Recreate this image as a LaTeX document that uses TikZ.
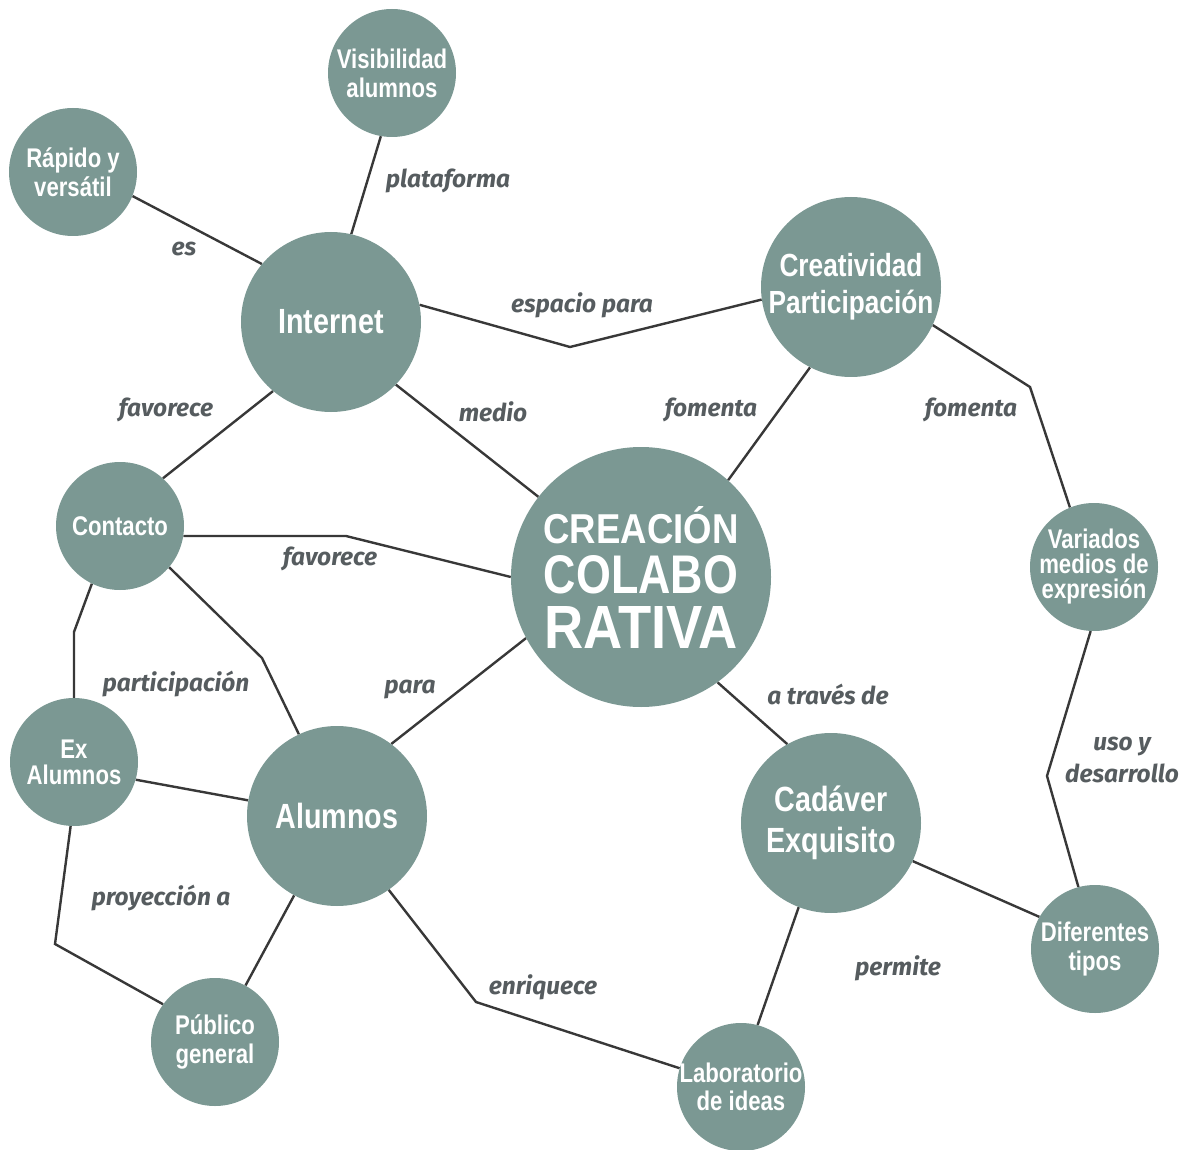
\documentclass[tikz,border=0pt]{standalone}
\usepackage{fontspec}
\usepackage{graphicx}
\newfontfamily\nodefont[FakeStretch=0.82]{Liberation Sans}
\newfontfamily\linkfont{Fira Sans}
\definecolor{sage}{HTML}{7B9893}
\definecolor{wire}{HTML}{383838}
\definecolor{note}{HTML}{565C5F}
\tikzset{
  concept/.style={circle, fill=sage, text=white, inner sep=-12pt, align=center},
  bigconcept/.style={concept, minimum size=180pt, font=\nodefont\bfseries\fontsize{35}{41}\selectfont},
  smallconcept/.style={concept, minimum size=128pt, font=\nodefont\bfseries\fontsize{27}{29}\selectfont},
  link/.style={draw=wire, line width=2.4pt},
  linklabel/.style={text=note, inner sep=0pt, align=center, font=\linkfont\bfseries\itshape\fontsize{24.5}{32}\selectfont},
}

\begin{document}
\begin{tikzpicture}[x=1pt, y=-1pt]
    \pgfdeclarelayer{background}
    \pgfsetlayers{background,main}
    \useasboundingbox (0,0) rectangle (1192,1150);

    % concepts
    \node[concept, minimum size=260pt, font=\nodefont\bfseries\fontsize{50}{50}\selectfont] (crea) at (641,577)
        {\resizebox{195pt}{37pt}{CREACIÓN}\\\resizebox{194pt}{38pt}{COLABO}\\[5pt]\resizebox{194pt}{42pt}{RATIVA}};
    \node[bigconcept] (internet) at (331,322) {Internet};
    \node[bigconcept, font=\nodefont\bfseries\fontsize{32}{37}\selectfont] (creat) at (851,287) {Creatividad\\Participación};
    \node[bigconcept] (alumnos) at (337,816) {Alumnos};
    \node[bigconcept] (cadaver) at (831,823) {Cadáver\\Exquisito};
    \node[smallconcept] (visib) at (392,73) {Visibilidad\\alumnos};
    \node[smallconcept] (rapido) at (73,172) {Rápido y\\versátil};
    \node[smallconcept] (contacto) at (120,526) {Contacto};
    \node[smallconcept, font=\nodefont\bfseries\fontsize{27}{25}\selectfont] (variados) at (1094,567) {Variados\\medios de\\expresión};
    \node[smallconcept, font=\nodefont\bfseries\fontsize{27}{26}\selectfont] (exalum) at (74,762) {Ex\\Alumnos};
    \node[smallconcept] (difer) at (1095,949) {Diferentes\\tipos};
    \node[smallconcept] (publico) at (215,1042) {Público\\general};
    \node[smallconcept, font=\nodefont\bfseries\fontsize{27}{28}\selectfont] (labo) at (741,1087) {Laboratorio\\de ideas};

    % bends
    \coordinate (kInterCreat) at (570,347);
    \coordinate (kCreatVar) at (1030,387);
    \coordinate (kContCrea) at (346,536);
    \coordinate (kContAlum) at (262,658);
    \coordinate (kContEx) at (74,632);
    \coordinate (kExPub) at (55,944);
    \coordinate (kAlumLab) at (476,1002);
    \coordinate (kVarDif) at (1047,776);

    \begin{pgfonlayer}{background}
        \draw[link] (rapido.338) -- (internet.140);
        \draw[link] (visib.260) -- (internet.77);
        \draw[link] (internet.11) -- (kInterCreat) -- (creat.188);
        \draw[link] (internet.316) -- (crea.142);
        \draw[link] (internet.230) -- (contacto.48);
        \draw[link] (creat.243) -- (crea.48);
        \draw[link] (creat.335) -- (kCreatVar) -- (variados.112);
        \draw[link] (contacto.351) -- (kContCrea) -- (crea.180);
        \draw[link] (contacto.320) -- (kContAlum) -- (alumnos.115);
        \draw[link] (contacto.244) -- (kContEx) -- (exalum.90);
        \draw[link] (exalum.344) -- (alumnos.170);
        \draw[link] (exalum.267) -- (kExPub) -- (publico.144);
        \draw[link] (alumnos.53) -- (crea.208);
        \draw[link] (alumnos) -- (publico);
        \draw[link] (alumnos.305) -- (kAlumLab) -- (labo.163);
        \draw[link] (crea.306) -- (cadaver.119);
        \draw[link] (cadaver.335) -- (difer.150);
        \draw[link] (cadaver.249) -- (labo.75);
        \draw[link] (variados.267) -- (kVarDif) -- (difer.105);
    \end{pgfonlayer}

    % link words
    \node[linklabel] (tEs) at (184,249) {es};
    \node[linklabel] (tPlataforma) at (448,181) {plataforma};
    \node[linklabel] (tEspacio) at (582,305) {espacio para};
    \node[linklabel] (tMedio) at (493,412) {medio};
    \node[linklabel] (tFavorece) at (166,410) {favorece};
    \node[linklabel] (tFomentaA) at (711,410) {fomenta};
    \node[linklabel] (tFomentaB) at (971,410) {fomenta};
    \node[linklabel] (tFavoreceB) at (330,559) {favorece};
    \node[linklabel] (tParticip) at (176,684) {participación};
    \node[linklabel] (tPara) at (410,690) {para};
    \node[linklabel] (tProyec) at (161,898) {proyección a};
    \node[linklabel] (tEnriq) at (543,987) {enriquece};
    \node[linklabel] (tTraves) at (828,694) {a través de};
    \node[linklabel] (tPermite) at (898,968) {permite};
    \node[linklabel] (tUso) at (1122,760) {uso y\\desarrollo};
\end{tikzpicture}
\end{document}
